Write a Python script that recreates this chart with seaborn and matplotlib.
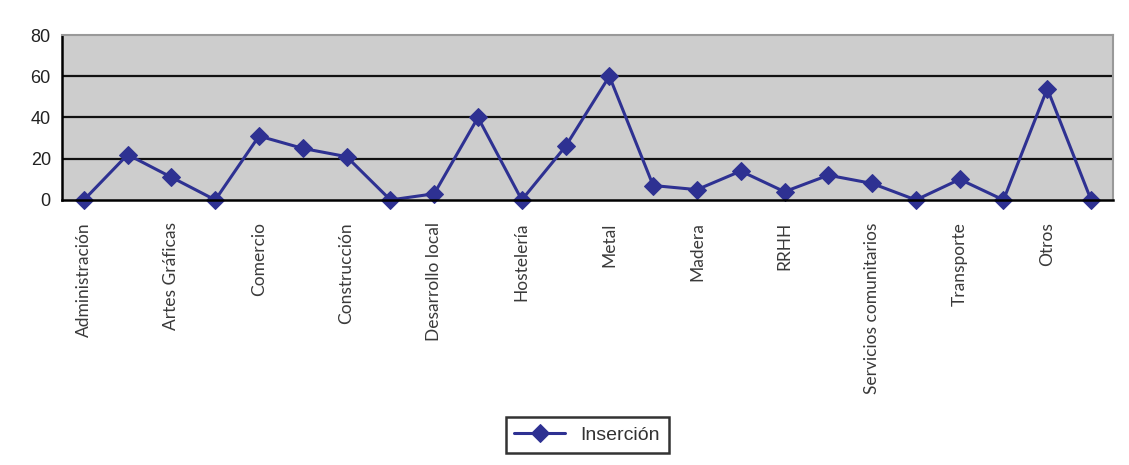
import pandas as pd
import numpy as np
import matplotlib
matplotlib.use('Agg')
import matplotlib.pyplot as plt
import seaborn as sns
from matplotlib.ticker import FixedLocator

sns.set_theme(style='white')
plt.rcParams['font.family'] = ['Liberation Sans', 'DejaVu Sans']

# 24 categories, only every other one is labelled in the original
labels = ['Administración', 'Artes Gráficas', 'Comercio', 'Construcción',
          'Desarrollo local', 'Hostelería', 'Metal', 'Madera', 'RRHH',
          'Servicios comunitarios', 'Transporte', 'Otros']
insercion = [0, 22, 11, 0, 31, 25, 21, 0, 3, 40, 0, 26,
             60, 7, 5, 14, 4, 12, 8, 0, 10, 0, 54, 0]
y_ticks = [0, 20, 40, 60, 80]

df = pd.DataFrame({'pos': np.arange(len(insercion)), 'Inserción': insercion})

navy = '#2E3192'

fig = plt.figure(figsize=(11.29, 4.65), dpi=100)
ax = fig.add_axes([0.0549, 0.570, 0.9309, 0.3547])
ax.set_facecolor('#CDCDCD')

sns.lineplot(data=df, x='pos', y='Inserción', marker='D', markersize=9,
             color=navy, linewidth=2.2, markeredgecolor=navy,
             label='Inserción', ax=ax, zorder=5, clip_on=False)

ax.set_xlim(-0.5, len(insercion) - 0.5)
ax.set_ylim(0, 80)
ax.set_yticks(y_ticks)
ax.set_yticklabels([str(v) for v in y_ticks], fontsize=13)
for v in y_ticks[1:-1]:
    ax.axhline(v, color='#111111', linewidth=1.6, zorder=1)

ax.set_xticks(np.arange(0, len(insercion), 2))
ax.set_xticklabels(labels, rotation=90, fontsize=12.5, family=['Lato', 'DejaVu Sans'],
                   va='top', ha='center')
ax.xaxis.set_minor_locator(FixedLocator(np.arange(-0.5, len(insercion), 1)))
ax.tick_params(axis='x', which='major', length=0, pad=16, labelcolor='#3a3a3a')
ax.tick_params(axis='x', which='minor', length=5, width=1.5, color='black', direction='out')
ax.tick_params(axis='y', length=5, width=1.5, color='black', direction='out', pad=3,
               labelcolor='#222222')
ax.set_xlabel('')
ax.set_ylabel('')

for side in ['left', 'bottom']:
    ax.spines[side].set_color('black')
    ax.spines[side].set_linewidth(1.8)
for side in ['top', 'right']:
    ax.spines[side].set_color('#999999')
    ax.spines[side].set_linewidth(1.5)
ax.spines['bottom'].set_zorder(6)

leg = ax.legend(loc='center', bbox_to_anchor=(0.52, 0.0645),
                bbox_transform=fig.transFigure, frameon=True, fancybox=False,
                prop={'size': 14}, handlelength=2.6, borderpad=0.45)
leg.get_frame().set_edgecolor('black')
leg.get_frame().set_linewidth(1.8)
for t in leg.get_texts():
    t.set_color('#333333')

fig.savefig('out.png', dpi=100)
